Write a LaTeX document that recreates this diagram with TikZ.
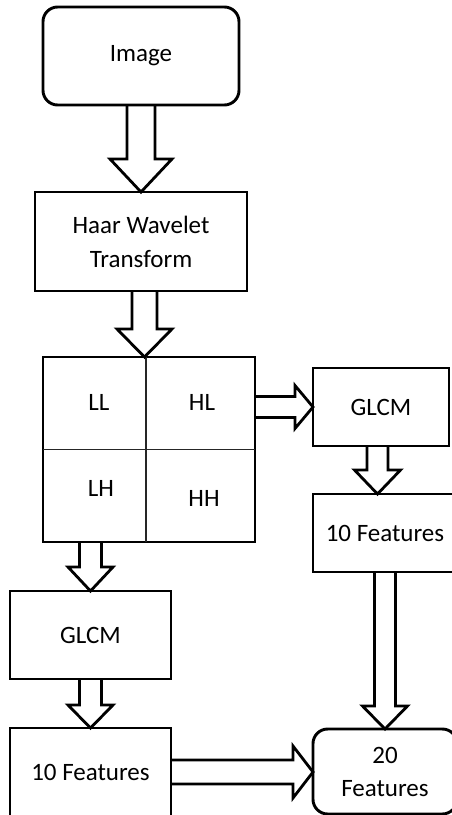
\documentclass[tikz,border=0pt]{standalone}
\usepackage{fontspec}
\setmainfont{Carlito}
\usetikzlibrary{calc}
\tikzset{
  box/.style={draw, line width=2.2pt, align=center, inner sep=0pt, outer sep=0pt,
    font=\fontsize{18.75}{25.5}\selectfont},
  rbox/.style={box, rounded corners=11pt},
  lbl/.style={inner sep=0pt, font=\fontsize{18.75}{22}\selectfont},
  blk/.style={draw, line width=2.1pt, line join=miter},
  divider/.style={line width=0.9pt, draw=black!85},
}
% vertical block arrow: #1 top, #2 tip, #3 shaft half width, #4 head half width, #5 head length
\newcommand\dnarrow[5]{%
  \draw[blk] ($(#1)+(-#3,0)$) -- ($(#2)+(-#3,-#5)$) -- ($(#2)+(-#4,-#5)$) -- (#2)
    -- ($(#2)+(#4,-#5)$) -- ($(#2)+(#3,-#5)$) -- ($(#1)+(#3,0)$);}
% horizontal block arrow: #1 start, #2 tip
\newcommand\rtarrow[5]{%
  \draw[blk] ($(#1)+(0,-#3)$) -- ($(#2)+(-#5,-#3)$) -- ($(#2)+(-#5,-#4)$) -- (#2)
    -- ($(#2)+(-#5,#4)$) -- ($(#2)+(-#5,#3)$) -- ($(#1)+(0,#3)$);}
\begin{document}
\begin{tikzpicture}[x=0.75pt,y=-0.75pt]
\useasboundingbox (0,0) rectangle (452,815);
\clip (0,0) rectangle (452,815);

\node[rbox, minimum width=147pt, minimum height=73.5pt] (img) at (141,56) {Image};
\node[box, minimum width=159pt, minimum height=74.25pt] (haar) at (141,241.5) {Haar Wavelet\\Transform};
\node[box, minimum width=159pt, minimum height=138.75pt] (quad) at (149,449.5) {};
\node[box, minimum width=102pt, minimum height=58.5pt] (glcmR) at (381,407) {GLCM};
\node[box, minimum width=108pt, minimum height=58.5pt] (tenR) at (385,533) {10 Features};
\node[box, minimum width=120.75pt, minimum height=66pt] (glcmL) at (90.5,635) {GLCM};
\node[box, minimum width=120.75pt, minimum height=66pt] (tenL) at (90.5,772) {10 Features};
\node[rbox, minimum width=108pt, minimum height=63.75pt, font=\fontsize{18.75}{24.75}\selectfont] (twenty) at (385,771.5) {20\\Features};

% quadrants
\draw[divider] ($(quad.north)+(-3,0)$) -- ($(quad.south)+(-3,0)$);
\draw[divider] (quad.west) -- (quad.east);
\node[lbl] (ll) at (99,402) {LL};
\node[lbl] (hl) at (202,402) {HL};
\node[lbl] (lh) at (101,488) {LH};
\node[lbl] (hh) at (204,498) {HH};

% coordinates for arrows
\coordinate (a2s) at ($(haar.south)+(3.5,0)$);
\coordinate (a2e) at ($(quad.north)+(-4.5,0)$);
\coordinate (a3s) at (quad.east |- glcmR.west);
\coordinate (a4s) at ($(glcmR.south)+(-3.5,0)$);
\coordinate (a4e) at ($(tenR.north)+(-7.5,0)$);
\coordinate (a5s) at (quad.south -| glcmL.north);
\coordinate (a7e) at (tenL.east -| twenty.west);

\dnarrow{img.south}{haar.north}{14}{31}{33}
\dnarrow{a2s}{a2e}{12.5}{27.5}{28}
\rtarrow{a3s}{glcmR.west}{10.5}{21.5}{18}
\dnarrow{a4s}{a4e}{10.5}{23}{24}
\dnarrow{a5s}{glcmL.north}{11}{22.5}{24}
\dnarrow{glcmL.south}{tenL.north}{11}{22.5}{23}
\rtarrow{tenL.east}{a7e}{12}{26}{20}
\dnarrow{tenR.south}{twenty.north}{10.5}{22.5}{23}
\end{tikzpicture}
\end{document}
